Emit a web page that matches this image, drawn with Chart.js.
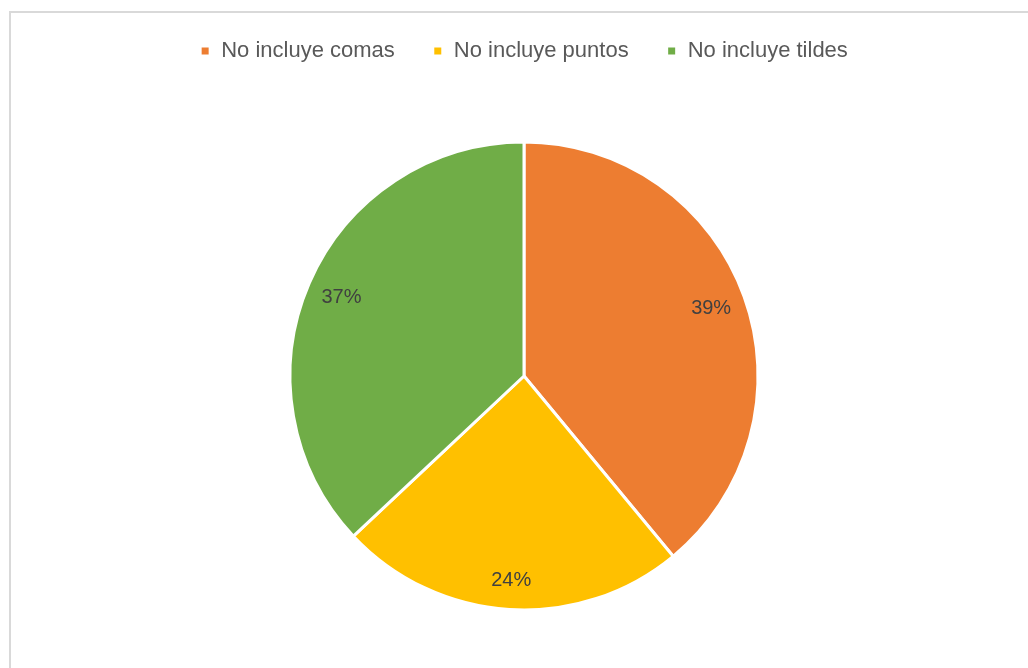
<!DOCTYPE html>
<html>
<head>
<meta charset="utf-8">
<script src="https://cdn.jsdelivr.net/npm/chart.js@4/dist/chart.umd.min.js"></script>
<style>
  html, body { margin: 0; padding: 0; background: #fff; }
  #wrap { position: relative; width: 1028px; height: 668px; overflow: hidden; }
  #frame { position: absolute; left: 9px; top: 11px; width: 1100px; height: 700px;
           border-top: 2px solid #d9d9d9; border-left: 2px solid #d9d9d9; }
  canvas { position: absolute; left: 0; top: 0; }
</style>
</head>
<body>
<div id="wrap">
  <div id="frame"></div>
  <canvas id="chart" width="1028" height="700"></canvas>
</div>
<script>
// datos del grafico
const categories = ['No incluye comas', 'No incluye puntos', 'No incluye tildes'];
const values = [39, 24, 37];
const sliceColors = ['#ED7D31', '#FFC000', '#70AD47'];

const FONT = "'Liberation Sans', 'DejaVu Sans', sans-serif";

// etiquetas de porcentaje dentro de cada porcion
const pctLabels = {
  id: 'pctLabels',
  afterDatasetsDraw(chart) {
    const ctx = chart.ctx;
    const meta = chart.getDatasetMeta(0);
    const total = values.reduce((a, b) => a + b, 0);
    ctx.save();
    ctx.font = '20px ' + FONT;
    ctx.fillStyle = '#404040';
    ctx.textAlign = 'center';
    ctx.textBaseline = 'middle';
    meta.data.forEach((arc, i) => {
      const p = arc.getProps(['x', 'y', 'startAngle', 'endAngle', 'outerRadius'], true);
      const mid = (p.startAngle + p.endAngle) / 2;
      const r = p.outerRadius * (i === 1 ? 0.875 : 0.85);
      const txt = Math.round(values[i] / total * 100) + '%';
      ctx.fillText(txt, p.x + Math.cos(mid) * r, p.y + Math.sin(mid) * r);
    });
    ctx.restore();
  }
};

const ctx = document.getElementById('chart').getContext('2d');
new Chart(ctx, {
  type: 'pie',
  data: {
    labels: categories,
    datasets: [{
      data: values,
      backgroundColor: sliceColors,
      borderColor: '#ffffff',
      borderWidth: 3,
      radius: 234
    }]
  },
  options: {
    responsive: false,
    animation: false,
    layout: { padding: { top: 2, bottom: 20, left: 20, right: 0 } },
    plugins: {
      legend: {
        position: 'top',
        labels: {
          boxWidth: 10,
          boxHeight: 10,
          padding: 38,
          color: '#595959',
          font: { family: FONT, size: 22 }
        }
      },
      tooltip: { enabled: false }
    }
  },
  plugins: [pctLabels]
});
</script>
</body>
</html>
